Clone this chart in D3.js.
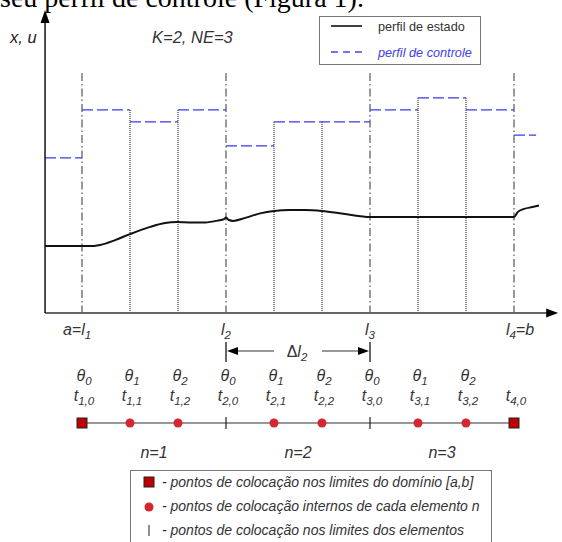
<!DOCTYPE html>
<html>
<head>
<meta charset="utf-8">
<script src="https://cdn.jsdelivr.net/npm/d3@7"></script>
<style>
  body { margin: 0; background: #fff; }
  svg { display: block; }
  text { font-family: "Liberation Sans", Arial, sans-serif; }
</style>
</head>
<body>
<div id="chart"></div>
<script>
// element boundaries l1..l4 and collocation points (t axis units)
const bounds = [1, 4, 7, 10];
const boundLabels = [["a=", "l", "1", ""], ["", "l", "2", ""], ["", "l", "3", ""], ["", "l", "4", "=b"]];
const collocT = [1, 2, 3, 4, 5, 6, 7, 8, 9, 10];
const thetaIdx = ["0", "1", "2", "0", "1", "2", "0", "1", "2"];
const tIdx = ["1,0", "1,1", "1,2", "2,0", "2,1", "2,2", "3,0", "3,1", "3,2", "4,0"];
const elemLabels = ["n=1", "n=2", "n=3"];

// control profile (piecewise constant): breaks and values
const ctrlT = [0.23, 1, 2, 3, 4, 5, 7, 8, 9, 10, 10.46];
const ctrlU = [5.17, 6.77, 6.37, 6.77, 5.57, 6.37, 6.77, 7.17, 6.77, 5.93];

// state profile
const stateT = [0.23, 1.12, 1.38, 1.69, 2, 2.42, 2.73, 2.98, 3.25, 3.56, 3.83, 3.96, 4, 4.06, 4.15, 4.4, 4.71, 5, 5.33, 5.65, 6, 6.48, 7, 8.5, 10, 10.08, 10.21, 10.38, 10.52];
const stateX = [2.23, 2.23, 2.27, 2.43, 2.63, 2.87, 3.0, 3.03, 3.02, 3.02, 3.08, 3.13, 3.18, 3.1, 3.07, 3.17, 3.32, 3.4, 3.43, 3.43, 3.4, 3.3, 3.2, 3.2, 3.2, 3.37, 3.47, 3.53, 3.58];

const legendItems = ["perfil de estado", "perfil de controle"];
const pointLegend = [
  "- pontos de colocação nos limites do domínio [a,b]",
  "- pontos de colocação internos de cada elemento n",
  "- pontos de colocação nos limites dos elementos"
];

const W = 562, H = 542;
const svg = d3.select("#chart").append("svg").attr("width", W).attr("height", H);

const x = d3.scaleLinear().domain([1, 10]).range([82, 514]);
const y = d3.scaleLinear().domain([0, 10]).range([313, 13]);

const t0 = 0.23, tEnd = 10.92;
const yTop = 8.0;

// cut-off paragraph text at top
svg.append("text").attr("x", 0).attr("y", 7)
  .style("font-family", "'Liberation Serif', 'Times New Roman', serif")
  .style("font-size", "28px").attr("fill", "#000")
  .text("seu perfil de controle (Figura 1).");

// dash-dot element boundaries
svg.append("g").selectAll("line").data(bounds).enter().append("line")
  .attr("x1", d => x(d)).attr("x2", d => x(d))
  .attr("y1", y(yTop)).attr("y2", y(0))
  .attr("stroke", "#555").attr("stroke-width", 1.2)
  .attr("stroke-dasharray", "8,3,1.5,3");

// dotted internal lines
const internal = collocT.filter(d => bounds.indexOf(d) < 0);
svg.append("g").selectAll("line").data(internal).enter().append("line")
  .attr("x1", d => x(d)).attr("x2", d => x(d))
  .attr("y1", d => {
    const i = d3.bisectRight(ctrlT, d) - 1;
    return y(Math.max(ctrlU[i], ctrlU[i - 1]));
  })
  .attr("y2", y(0))
  .attr("stroke", "#333").attr("stroke-width", 1.2)
  .attr("stroke-dasharray", "1,1");

// control profile
svg.append("g").selectAll("line").data(ctrlU).enter().append("line")
  .attr("x1", (d, i) => x(ctrlT[i])).attr("x2", (d, i) => x(ctrlT[i + 1]))
  .attr("y1", d => y(d)).attr("y2", d => y(d))
  .attr("stroke", "#3a3af0").attr("stroke-width", 1.4)
  .attr("stroke-dasharray", "11,4");

// state profile
const line = d3.line().x(d => x(d[0])).y(d => y(d[1])).curve(d3.curveMonotoneX);
svg.append("path").datum(stateT.map((t, i) => [t, stateX[i]]))
  .attr("d", line).attr("fill", "none")
  .attr("stroke", "#111").attr("stroke-width", 2);

// axes
svg.append("line").attr("x1", x(t0)).attr("x2", x(tEnd) - 8)
  .attr("y1", y(0)).attr("y2", y(0))
  .attr("stroke", "#666").attr("stroke-width", 1.8);
svg.append("path")
  .attr("d", `M${x(tEnd)},${y(0)} L${x(tEnd) - 12},${y(0) - 4.5} L${x(tEnd) - 12},${y(0) + 4.5} Z`)
  .attr("fill", "#000");
svg.append("line").attr("x1", x(t0)).attr("x2", x(t0))
  .attr("y1", y(0)).attr("y2", 20)
  .attr("stroke", "#000").attr("stroke-width", 1.4);
svg.append("path")
  .attr("d", `M${x(t0)},10 L${x(t0) - 4.5},23 L${x(t0) + 4.5},23 Z`)
  .attr("fill", "#000");

// axis titles
svg.append("text").attr("x", 10).attr("y", 43)
  .style("font-size", "16.5px").style("font-style", "italic").attr("fill", "#222")
  .text("x, u");
svg.append("text").attr("x", 152).attr("y", 43)
  .style("font-size", "16.5px").style("font-style", "italic").attr("fill", "#333")
  .text("K=2, NE=3");

// legend (top)
const lg = svg.append("g");
lg.append("rect").attr("x", 319.5).attr("y", 16.5).attr("width", 161).attr("height", 48)
  .attr("fill", "#fff").attr("stroke", "#777").attr("stroke-width", 1);
lg.append("line").attr("x1", 331).attr("x2", 362).attr("y1", 26).attr("y2", 26)
  .attr("stroke", "#000").attr("stroke-width", 1.5);
lg.append("line").attr("x1", 331).attr("x2", 362).attr("y1", 52).attr("y2", 52)
  .attr("stroke", "#4545f5").attr("stroke-width", 1.4).attr("stroke-dasharray", "7,5");
lg.append("text").attr("x", 378).attr("y", 31)
  .style("font-size", "12.7px").attr("fill", "#333").text(legendItems[0]);
lg.append("text").attr("x", 378).attr("y", 57)
  .style("font-size", "12.7px").style("font-style", "italic").attr("fill", "#4040f0").text(legendItems[1]);

// helper: text with subscript
function subText(g, xc, yb, parts, size) {
  const t = g.append("text").attr("x", xc).attr("y", yb).attr("text-anchor", "middle")
    .style("font-size", size + "px").style("font-style", "italic").attr("fill", "#333");
  parts.forEach(p => {
    const s = t.append("tspan").text(p.s);
    if (p.sub) s.attr("dy", 4).style("font-size", (size * 0.72) + "px");
    if (p.up) s.attr("dy", -4);
    if (p.normal) s.style("font-style", "normal");
  });
  return t;
}

// boundary labels
const bl = svg.append("g");
bounds.forEach((b, i) => {
  const L = boundLabels[i];
  const parts = [];
  if (L[0]) parts.push({ s: L[0] });
  parts.push({ s: L[1] });
  parts.push({ s: L[2], sub: true });
  if (L[3]) parts.push({ s: L[3], up: true });
  let xc = x(b);
  if (i === 0) xc = x(b) - 5;
  if (i === 3) xc = x(b) + 6;
  subText(bl, xc, 335, parts, 16);
});

// Δl2 arrows
const ag = svg.append("g");
[bounds[1], bounds[2]].forEach(b => {
  ag.append("line").attr("x1", x(b)).attr("x2", x(b)).attr("y1", 342).attr("y2", 362)
    .attr("stroke", "#000").attr("stroke-width", 1.2);
});
ag.append("line").attr("x1", x(5)).attr("x2", x(4) + 10).attr("y1", 351).attr("y2", 351)
  .attr("stroke", "#333").attr("stroke-width", 1.2);
ag.append("path").attr("d", `M${x(4) + 1},351 L${x(4) + 12},347 L${x(4) + 12},355 Z`).attr("fill", "#000");
ag.append("line").attr("x1", x(6)).attr("x2", x(7) - 10).attr("y1", 351).attr("y2", 351)
  .attr("stroke", "#333").attr("stroke-width", 1.2);
ag.append("path").attr("d", `M${x(7) - 1},351 L${x(7) - 12},347 L${x(7) - 12},355 Z`).attr("fill", "#000");
subText(ag, (x(5) + x(6)) / 2 - 1, 357, [{ s: "Δ", normal: true }, { s: "l" }, { s: "2", sub: true }], 16);

// theta and t labels
const lab = svg.append("g");
thetaIdx.forEach((d, i) => {
  subText(lab, x(collocT[i]) + 2, 381, [{ s: "θ" }, { s: d, sub: true }], 16);
});
tIdx.forEach((d, i) => {
  subText(lab, x(collocT[i]) + 2, 401, [{ s: "t" }, { s: d, sub: true }], 16);
});

// collocation point line
const py = 423;
const pg = svg.append("g");
pg.append("line").attr("x1", x(1)).attr("x2", x(10)).attr("y1", py).attr("y2", py)
  .attr("stroke", "#777").attr("stroke-width", 1.5);
pg.selectAll("line.tick").data(bounds.slice(1, 3)).enter().append("line")
  .attr("class", "tick")
  .attr("x1", d => x(d)).attr("x2", d => x(d)).attr("y1", py - 6).attr("y2", py + 6)
  .attr("stroke", "#222").attr("stroke-width", 1.2);
pg.selectAll("circle").data(internal).enter().append("circle")
  .attr("cx", d => x(d)).attr("cy", py).attr("r", 4.5).attr("fill", "#d4282c");
pg.selectAll("rect").data([bounds[0], bounds[3]]).enter().append("rect")
  .attr("x", d => x(d) - 5).attr("y", py - 5).attr("width", 10).attr("height", 10)
  .attr("fill", "#c00000").attr("stroke", "#222").attr("stroke-width", 1);

// element labels
elemLabels.forEach((d, i) => {
  pg.append("text").attr("x", (x(bounds[i]) + x(bounds[i + 1])) / 2).attr("y", 458)
    .attr("text-anchor", "middle").style("font-size", "16px").style("font-style", "italic")
    .attr("fill", "#333").text(d);
});

// bottom legend
const bg = svg.append("g");
bg.append("rect").attr("x", 130.5).attr("y", 470.5).attr("width", 361).attr("height", 90)
  .attr("fill", "#fff").attr("stroke", "#777").attr("stroke-width", 1);
bg.append("rect").attr("x", 144).attr("y", 477).attr("width", 10).attr("height", 10)
  .attr("fill", "#c00000").attr("stroke", "#222").attr("stroke-width", 1);
bg.append("circle").attr("cx", 149).attr("cy", 507).attr("r", 4.5).attr("fill", "#d4282c");
bg.append("line").attr("x1", 149).attr("x2", 149).attr("y1", 525).attr("y2", 536)
  .attr("stroke", "#444").attr("stroke-width", 1.2);
pointLegend.forEach((d, i) => {
  bg.append("text").attr("x", 162).attr("y", 487 + i * 24)
    .style("font-size", "14px").style("font-style", "italic").attr("fill", "#333").text(d);
});
</script>
</body>
</html>
